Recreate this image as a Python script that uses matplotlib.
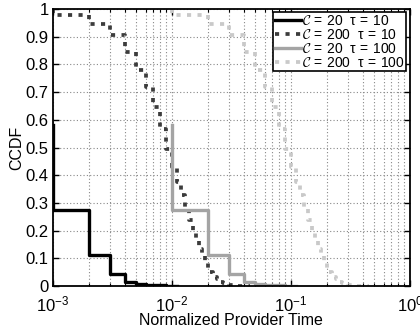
import numpy as np
import matplotlib
matplotlib.use("Agg")
import matplotlib.pyplot as plt
from matplotlib.font_manager import FontProperties
from matplotlib.ticker import LogLocator, FixedLocator, NullFormatter

plt.rcParams['font.family'] = ['Liberation Sans', 'DejaVu Sans']
plt.rcParams['mathtext.fontset'] = 'custom'
plt.rcParams['mathtext.rm'] = 'Liberation Sans'
plt.rcParams['mathtext.it'] = 'Liberation Sans:italic'
plt.rcParams['mathtext.default'] = 'regular'

# ---------------- data ----------------
# step index k: x = k * unit, unit = 1e-3 (tau=10) or 1e-2 (tau=100)
c20_start = 0.58
c20_vals = [0.274, 0.112, 0.045, 0.016, 0.007, 0.004, 0.003, 0.002, 0.0015, 0.001]

c200_start = 1.0
c200_vals = [0.978, 0.946, 0.905, 0.845, 0.78, 0.72, 0.646, 0.567, 0.495, 0.43,
             0.375, 0.33, 0.285, 0.24, 0.20, 0.165, 0.135, 0.108, 0.085, 0.066,
             0.051, 0.040, 0.031, 0.024, 0.018, 0.014, 0.011, 0.008, 0.006, 0.004,
             0.003, 0.002, 0.0015, 0.001, 0.0007, 0.0004, 0.0002, 0.0001, 0.0, 0.0,
             0.0, 0.0, 0.0, 0.0]

units = {'10': 1e-3, '100': 1e-2}
labels = [r'$\mathcal{C}\,=\,20\ \ \tau\,=\,10$', r'$\mathcal{C}\,=\,200\ \ \tau\,=\,10$',
          r'$\mathcal{C}\,=\,20\ \ \tau\,=\,100$', r'$\mathcal{C}\,=\,200\ \ \tau\,=\,100$']
ytick_vals = [0, 0.1, 0.2, 0.3, 0.4, 0.5, 0.6, 0.7, 0.8, 0.9, 1]
ytick_labels = ['0', '0.1', '0.2', '0.3', '0.4', '0.5', '0.6', '0.7', '0.8', '0.9', '1']
xlabel = 'Normalized Provider Time'
ylabel = 'CCDF'


def stair(start, vals, unit):
    ks = np.arange(1, len(vals) + 1)
    x = np.concatenate([[1], ks, [len(vals) + 1]]) * unit
    y = np.concatenate([[start], vals, [vals[-1]]])
    return x, y


fig = plt.figure(figsize=(4.2, 3.33), dpi=100)
ax = fig.add_axes([0.126, 0.141, 0.850, 0.832])

lw_solid = 2.4
lw_dot = 2.7
dash = (1.1, 1.7)

x, y = stair(c20_start, c20_vals, units['10'])
ax.plot(x, y, drawstyle='steps-post', color='black', lw=lw_solid, label=labels[0])
x, y = stair(c200_start, c200_vals, units['10'])
ax.plot(x, y, drawstyle='steps-post', color='#3c3c3c', lw=lw_dot, dashes=dash, label=labels[1])
x, y = stair(c20_start, c20_vals, units['100'])
ax.plot(x, y, drawstyle='steps-post', color='#a4a4a4', lw=lw_solid, label=labels[2])
x, y = stair(c200_start, c200_vals, units['100'])
ax.plot(x, y, drawstyle='steps-post', color='#c9c9c9', lw=lw_dot, dashes=dash, label=labels[3])

ax.set_xscale('log')
ax.set_xlim(1e-3, 1)
ax.set_ylim(0, 1)
ax.yaxis.set_major_locator(FixedLocator(ytick_vals))
ax.set_yticklabels(ytick_labels)
ax.xaxis.set_major_locator(LogLocator(base=10, numticks=10))
ax.xaxis.set_minor_locator(LogLocator(base=10, subs=np.arange(2, 10), numticks=20))
ax.xaxis.set_minor_formatter(NullFormatter())

ax.grid(True, which='major', axis='both', linestyle=(0, (1, 2)), color='#888888', lw=0.8)
ax.grid(True, which='minor', axis='x', linestyle=(0, (1, 2)), color='#888888', lw=0.8)
ax.set_axisbelow(True)

ax.tick_params(which='both', direction='in', top=True, right=True, labelsize=12)
ax.tick_params(axis='x', which='major', pad=6)
ax.tick_params(axis='y', which='major', pad=3)
ax.tick_params(which='major', length=4, width=1.0)
ax.tick_params(which='minor', length=2, width=0.8)
for s in ax.spines.values():
    s.set_linewidth(1.3)

ax.set_xlabel(xlabel, fontsize=11.5, labelpad=-1)
ax.set_ylabel(ylabel, fontsize=11.5, labelpad=1)

prop = FontProperties(size=10)
prop.set_math_fontfamily('cm')
leg = ax.legend(loc='upper right', prop=prop, handlelength=1.9, handletextpad=0.1,
                labelspacing=0.0, borderpad=0.1, borderaxespad=0.25, fancybox=False,
                framealpha=1, edgecolor='black')
leg.get_frame().set_linewidth(1.2)

fig.savefig('out.png', dpi=100)
